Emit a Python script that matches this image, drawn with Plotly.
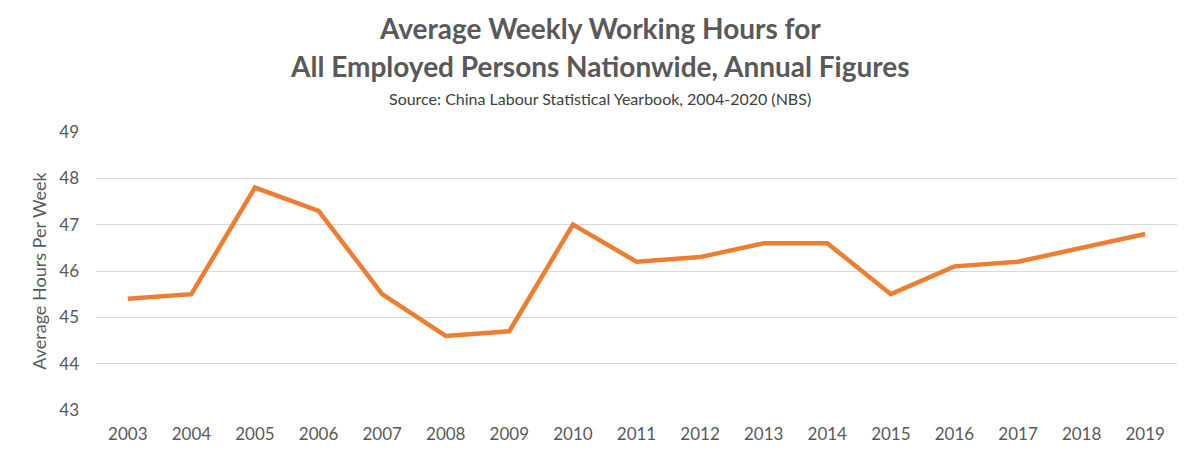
import plotly.graph_objects as go

years = [str(y) for y in range(2003, 2020)]
hours = [45.4, 45.5, 47.8, 47.3, 45.5, 44.6, 44.7, 47.0, 46.2, 46.3, 46.6, 46.6, 45.5, 46.1, 46.2, 46.5, 46.8]

title_lines = ["Average Weekly Working Hours for", "All Employed Persons Nationwide, Annual Figures"]
subtitle = "Source: China Labour Statistical Yearbook, 2004-2020 (NBS)"
y_title = "Average Hours Per Week"
y_ticks = [43, 44, 45, 46, 47, 48, 49]

FONT = "Lato, Open Sans, sans-serif"
GREY = "#595959"

W, H = 1184, 442          # page has an 8px body margin
L, R, T, B = 88, 15, 124, 40
OFF = 8

fig = go.Figure()
fig.add_trace(go.Scatter(x=years, y=hours, mode="lines",
                         line=dict(color="#ED7D31", width=4.5), hoverinfo="x+y"))

plot_h = H - T - B
plot_w = W - L - R

def px_to_paper(page_x, page_y):
    fx, fy = page_x - OFF, page_y - OFF
    return (fx - L) / plot_w, (H - B - fy) / plot_h

anns = []
for text, py, size, bold, col in [
    (title_lines[0], 28, 28, True, GREY),
    (title_lines[1], 66, 28, True, GREY),
    (subtitle, 98, 16, False, "#404040"),
]:
    ax, ay = px_to_paper(600, py)
    anns.append(dict(text=("<b>%s</b>" % text) if bold else text, x=ax, y=ay,
                     xref="paper", yref="paper", xanchor="center", yanchor="middle",
                     showarrow=False, font=dict(size=size, color=col, family=FONT)))

fig.update_layout(
    width=W, height=H,
    margin=dict(l=L, r=R, t=T, b=B),
    paper_bgcolor="white", plot_bgcolor="white",
    showlegend=False,
    font=dict(family=FONT, color=GREY),
    xaxis=dict(type="category", range=[-0.5, 16.5], showgrid=False, zeroline=False,
               showline=False, ticks="", tickfont=dict(size=17, color=GREY),
               ticklabelstandoff=12, automargin=False),
    yaxis=dict(range=[43, 49], tickvals=y_ticks, showgrid=True, gridcolor="#D9D9D9",
               gridwidth=1.3, zeroline=False, showline=False, ticks="",
               tickfont=dict(size=17, color=GREY), ticklabelstandoff=16, automargin=False,
               title=dict(text=y_title, font=dict(size=18, color=GREY), standoff=7)),
    annotations=anns,
)

fig.write_html("out.html")
